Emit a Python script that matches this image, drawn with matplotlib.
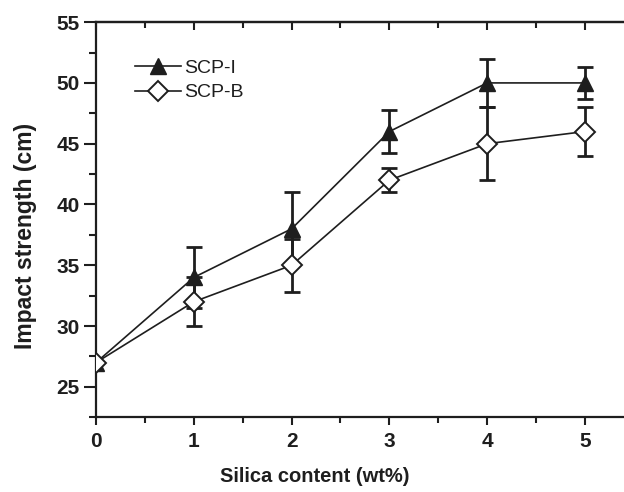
import numpy as np
import matplotlib.pyplot as plt
from matplotlib.ticker import MultipleLocator
from matplotlib.lines import Line2D

plt.rcParams['font.family'] = ['Liberation Sans', 'DejaVu Sans']

# silica content (wt%)
silica = [0, 1, 2, 3, 4, 5]

# impact strength (cm) and error bars (none shown at 0 wt%)
scp_i = [27, 34, 38, 46, 50, 50]
scp_i_err = [0, 2.5, 3, 1.8, 2, 1.3]
scp_b = [27, 32, 35, 42, 45, 46]
scp_b_err = [0, 2, 2.2, 1, 3, 2]

ink = '#1e1e1e'

fig = plt.figure(figsize=(6.24, 4.92), dpi=100)
ax = fig.add_axes([0.154, 0.152, 0.846, 0.803])

# error bars (skip the 0 wt% point)
ax.errorbar(silica[1:], scp_i[1:], yerr=scp_i_err[1:], fmt='none',
            ecolor=ink, elinewidth=2, capsize=6, capthick=2, zorder=2)
ax.errorbar(silica[1:], scp_b[1:], yerr=scp_b_err[1:], fmt='none',
            ecolor=ink, elinewidth=2, capsize=6, capthick=2, zorder=2)

ax.plot(silica, scp_i, color=ink, lw=1.2, marker='^', ms=12,
        mfc=ink, mec=ink, zorder=3)
ax.plot(silica, scp_b, color=ink, lw=1.2, marker='D', ms=10,
        mfc='white', mec=ink, mew=1.4, zorder=4)

ax.set_xlim(0, 5.4)
ax.set_ylim(22.5, 55)
ax.xaxis.set_major_locator(MultipleLocator(1))
ax.xaxis.set_minor_locator(MultipleLocator(0.5))
ax.yaxis.set_major_locator(MultipleLocator(5))
ax.yaxis.set_minor_locator(MultipleLocator(2.5))

ax.spines['right'].set_visible(False)
for s in ['left', 'bottom', 'top']:
    ax.spines[s].set_linewidth(1.6)
    ax.spines[s].set_color(ink)

ax.tick_params(axis='x', which='both', direction='out', width=1.5,
               color=ink, pad=5)
ax.tick_params(axis='x', which='major', length=6)
ax.tick_params(axis='x', which='minor', length=4)
ax.tick_params(axis='y', which='both', direction='out', width=1.5,
               color=ink, pad=3)
ax.tick_params(axis='y', which='major', length=9)
ax.tick_params(axis='y', which='minor', length=5)
ax.tick_params(labelsize=15)
for lab in ax.get_xticklabels() + ax.get_yticklabels():
    lab.set_fontweight('bold')
    lab.set_color(ink)

# top axis: inward ticks, no labels
top = ax.secondary_xaxis('top')
top.xaxis.set_major_locator(MultipleLocator(1))
top.xaxis.set_minor_locator(MultipleLocator(0.5))
top.tick_params(which='both', direction='in', width=1.5, color=ink,
                labeltop=False)
top.tick_params(which='major', length=6)
top.tick_params(which='minor', length=4)
top.spines['top'].set_linewidth(1.6)
top.spines['top'].set_color(ink)

ax.set_xlabel('Silica content (wt%)', fontsize=14.5, fontweight='bold',
              color=ink)
ax.xaxis.set_label_coords(0.415, -0.125)
ax.set_ylabel('Impact strength (cm)', fontsize=16.5, fontweight='bold',
              color=ink)
ax.yaxis.set_label_coords(-0.112, 0.458)

handles = [
    Line2D([], [], color=ink, lw=1.2, marker='^', ms=12, mfc=ink, mec=ink),
    Line2D([], [], color=ink, lw=1.2, marker='D', ms=10, mfc='white',
           mec=ink, mew=1.4),
]
leg = ax.legend(handles, ['SCP-I', 'SCP-B'], loc='upper left',
                bbox_to_anchor=(0.04, 0.95), frameon=False, fontsize=14,
                handlelength=2.4, handletextpad=0.15, labelspacing=0.35)
for t in leg.get_texts():
    t.set_color(ink)

fig.savefig('out.png', dpi=100)
